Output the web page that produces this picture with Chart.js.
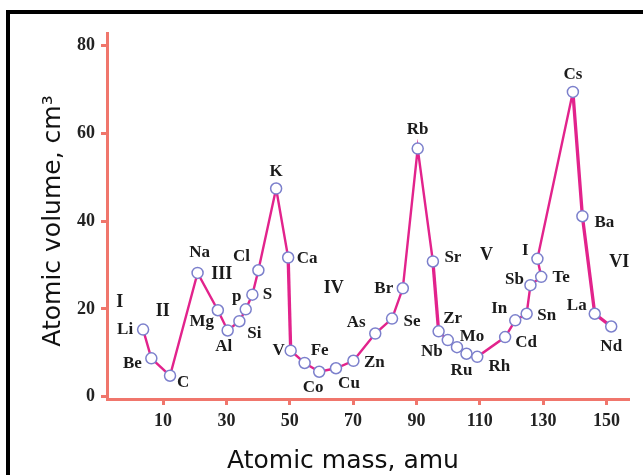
<!DOCTYPE html>
<html>
<head>
<meta charset="utf-8">
<script src="https://cdn.jsdelivr.net/npm/chart.js@4/dist/chart.umd.min.js"></script>
<style>
  body { margin: 0; background: #fff; }
</style>
</head>
<body>
<canvas id="volumeChart" width="643" height="475"></canvas>
<script>
// Atomic volume vs atomic mass
const elements = ['Li', 'Be', 'C', 'Na', 'Mg', 'Al', 'Si', 'p', 'S', 'Cl', 'K', 'Ca', 'V', 'Fe', 'Co', 'Cu', 'Zn', 'As', 'Se', 'Br',
  'Rb', 'Sr', 'Zr', 'Nb', 'Mo', 'Ru', 'Rh', 'Cd', 'In', 'Sn', 'Sb', 'Te', 'I', 'Cs', 'Ba', 'La', 'Nd'];
const masses = [3.7, 6.3, 12.2, 20.9, 27.3, 30.4, 34.1, 36.1, 38.2, 40.1, 45.7, 49.5, 50.3, 54.7, 59.3, 64.6, 70.1, 77.0, 82.3, 85.7,
  90.4, 95.2, 97.0, 99.9, 102.8, 105.8, 109.2, 118.0, 121.2, 124.8, 126.0, 129.4, 128.2, 139.4, 142.4, 146.3, 151.5];
const volumes = [15.3, 8.75, 4.8, 28.2, 19.7, 15.1, 17.2, 19.9, 23.25, 28.8, 47.4, 31.7, 10.5, 7.7, 5.7, 6.5, 8.2, 14.4, 17.8, 24.7,
  56.5, 30.8, 14.9, 12.9, 11.3, 9.8, 9.1, 13.6, 17.4, 18.9, 25.4, 27.3, 31.4, 69.4, 41.1, 18.9, 16.0];

const xTicks = [10, 30, 50, 70, 90, 110, 130, 150];
const yTicks = [0, 20, 40, 60, 80];

// period numerals placed in data coordinates
const periods = ['I', 'II', 'III', 'IV', 'V', 'VI'];
const periodMass = [-3.7, 9.9, 28.5, 63.9, 112.1, 154.0];
const periodVolume = [21.4, 19.4, 27.8, 24.6, 32.1, 30.6];

// label offsets in pixels from each point
const labelOffset = {
  Li: [-18, 0], Be: [-19, 5], C: [13, 7], Na: [2, -20], Mg: [-16, 11], Al: [-4, 16], Si: [15, 12], p: [-9, -13],
  S: [15, 0], Cl: [-17, -14], K: [0, -17], Ca: [19, 1], V: [-12, 0], Fe: [15, -12], Co: [-6, 16], Cu: [13, 15],
  Zn: [21, 2], As: [-19, -11], Se: [20, 3], Br: [-19, 0], Rb: [0, -19], Sr: [20, -4], Zr: [14, -13], Nb: [-16, 11],
  Mo: [15, -11], Ru: [-5, 17], Rh: [22, 10], Cd: [21, 6], In: [-16, -12], Sn: [20, 2], Sb: [-16, -6], Te: [20, 1],
  I: [-12, -8], Cs: [0, -17], Ba: [22, 6], La: [-18, -8], Nd: [0, 20]
};

const axisColor = '#f0766c';
const serif = '"Liberation Serif", "Times New Roman", serif';
const thickSegments = [11, 21, 33, 34, 35];

const decorations = {
  id: 'decorations',
  beforeDraw(chart) {
    const c = chart.ctx;
    c.save();
    c.fillStyle = '#fff';
    c.fillRect(0, 0, chart.width, chart.height);
    c.fillStyle = '#000';
    c.fillRect(6, 10, 4, chart.height - 10);
    c.fillRect(6, 10, chart.width - 6, 4);
    c.restore();
  },
  afterDatasetsDraw(chart) {
    const c = chart.ctx;
    const xs = chart.scales.x, ys = chart.scales.y;
    const pts = chart.getDatasetMeta(0).data;
    c.save();
    c.fillStyle = '#1b1b1b';
    c.font = 'bold 17px ' + serif;
    c.textAlign = 'center';
    c.textBaseline = 'middle';
    elements.forEach(function(el, i) {
      const off = labelOffset[el] || [0, -15];
      c.fillText(el, pts[i].x + off[0], pts[i].y + off[1]);
    });
    c.font = 'bold 18px ' + serif;
    periods.forEach(function(p, i) {
      c.fillText(p, xs.getPixelForValue(periodMass[i]), ys.getPixelForValue(periodVolume[i]));
    });
    c.restore();
  },
  afterDraw(chart) {
    const c = chart.ctx;
    c.save();
    c.fillStyle = '#111';
    c.font = '25px "DejaVu Sans", sans-serif';
    c.textAlign = 'center';
    c.textBaseline = 'alphabetic';
    c.fillText('Atomic mass, amu', 343, 468);
    c.translate(60, 221);
    c.rotate(-Math.PI / 2);
    c.fillText('Atomic volume, cm\u00B3', 0, 0);
    c.restore();
  }
};

const ctx = document.getElementById('volumeChart').getContext('2d');
const volumeChart = new Chart(ctx, {
  type: 'line',
  data: {
    datasets: [{
      data: masses.map((m, i) => ({ x: m, y: volumes[i] })),
      borderColor: '#e2238c',
      borderWidth: 2.4,
      tension: 0,
      fill: false,
      pointRadius: 5.5,
      pointBorderWidth: 1.5,
      pointBorderColor: '#7c80cc',
      pointBackgroundColor: '#fff',
      segment: {
        borderWidth: c => thickSegments.includes(c.p0DataIndex) ? 3.3 : 2.4
      },
      clip: false
    }]
  },
  options: {
    responsive: false,
    animation: false,
    layout: { padding: { left: 0, top: 33, right: 15, bottom: 0 } },
    plugins: {
      legend: { display: false },
      tooltip: { enabled: false }
    },
    scales: {
      x: {
        type: 'linear',
        min: -7.7,
        max: 156.8,
        afterBuildTicks: s => { s.ticks = xTicks.map(v => ({ value: v })); },
        afterFit: s => { s.height = 76; },
        border: { color: axisColor, width: 3 },
        grid: { drawOnChartArea: false, color: axisColor, lineWidth: 3, tickLength: 6 },
        ticks: { color: '#222', padding: 6, font: { family: serif, size: 18, weight: 'bold' } }
      },
      y: {
        min: -0.5,
        max: 82.8,
        afterBuildTicks: s => { s.ticks = yTicks.map(v => ({ value: v })); },
        afterFit: s => { s.width = 107; },
        border: { color: axisColor, width: 3 },
        grid: { drawOnChartArea: false, color: axisColor, lineWidth: 3, tickLength: 6 },
        ticks: { color: '#222', padding: 6, font: { family: serif, size: 18, weight: 'bold' } }
      }
    }
  },
  plugins: [decorations]
});
</script>
</body>
</html>
